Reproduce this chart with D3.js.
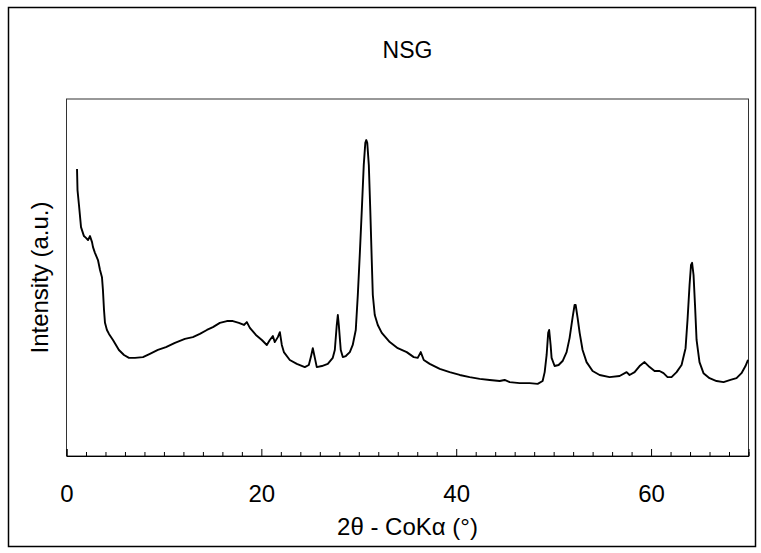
<!DOCTYPE html>
<html>
<head>
<meta charset="utf-8">
<script src="https://cdn.jsdelivr.net/npm/d3@7"></script>
<style>
  body { margin: 0; background: #fff; }
  svg { display: block; font-family: "Liberation Sans", Arial, sans-serif; }
</style>
</head>
<body>
<script>
// XRD pattern, NSG sample
var twoTheta = [1.08, 1.13, 1.28, 1.49, 1.79, 2.0, 2.21, 2.41, 2.62, 2.72, 2.92, 3.23, 3.44, 3.64, 3.74, 3.85, 3.95, 4.15, 4.36, 4.77,
  5.38, 5.9, 6.41, 7.03, 7.85, 8.56, 9.38, 10.21, 11.13, 12.15, 12.97, 13.69, 14.41, 15.03, 15.74, 16.46, 17.08, 17.69, 18.21, 18.51,
  18.82, 19.44, 20.05, 20.56, 20.87, 21.18, 21.38, 21.69, 21.9, 22.1, 22.31, 22.92, 23.64, 24.46, 24.87, 25.08, 25.28, 25.49, 25.69, 26.21,
  26.82, 27.33, 27.54, 27.74, 27.85, 27.95, 28.15, 28.36, 28.67, 29.08, 29.38, 29.69, 29.9, 30.1, 30.31, 30.51, 30.67, 30.77, 30.87, 31.03,
  31.18, 31.33, 31.44, 31.64, 31.95, 32.36, 33.18, 34.0, 34.92, 35.64, 36.05, 36.36, 36.67, 37.28, 38.31, 39.33, 40.36, 41.38, 42.41, 43.44,
  44.46, 44.97, 45.49, 46.51, 47.54, 48.36, 48.87, 49.08, 49.28, 49.44, 49.54, 49.69, 49.79, 50.1, 50.51, 50.92, 51.33, 51.64, 51.95, 52.15,
  52.26, 52.46, 52.67, 52.97, 53.38, 54.0, 54.72, 55.74, 56.77, 57.49, 57.79, 58.31, 58.82, 59.33, 59.85, 60.36, 60.87, 61.28, 61.69, 62.1,
  62.62, 63.13, 63.54, 63.74, 63.95, 64.1, 64.21, 64.36, 64.51, 64.67, 64.97, 65.38, 66.0, 66.72, 67.44, 68.15, 68.77, 69.28, 69.69, 69.95];
var intensity = [804, 745, 703, 641, 616, 611, 605, 616, 599, 585, 569, 549, 521, 501, 465, 409, 373, 353, 342, 325,
  297, 283, 275, 275, 277, 286, 297, 305, 317, 328, 333, 342, 353, 361, 373, 378, 378, 373, 367, 375,
  359, 339, 325, 311, 325, 336, 319, 333, 347, 311, 291, 269, 258, 249, 255, 277, 302, 275, 249, 252,
  258, 275, 297, 367, 395, 367, 297, 277, 280, 291, 311, 353, 451, 563, 689, 815, 877, 885, 877, 815,
  689, 549, 451, 395, 367, 345, 319, 302, 291, 277, 275, 291, 269, 258, 244, 235, 227, 221, 216, 213,
  210, 213, 207, 204, 204, 202, 210, 235, 283, 345, 353, 311, 275, 252, 255, 266, 291, 331, 389, 423,
  423, 387, 345, 297, 263, 238, 227, 221, 224, 235, 227, 235, 252, 263, 249, 238, 238, 232, 221, 221,
  235, 255, 302, 381, 479, 535, 541, 507, 423, 325, 263, 232, 218, 210, 207, 213, 218, 232, 252, 269];

var majorTicks = [0, 20, 40, 60];
var minorTicks = d3.range(0, 71, 2).filter(function(d) { return d % 20 !== 0; });

var title = "NSG";
var xTitle = "2θ - CoKα (°)";
var yTitle = "Intensity (a.u.)";

var width = 761, height = 553;
var margin = {top: 99, right: 12.5, bottom: 97, left: 66.5};

var x = d3.scaleLinear()
  .domain([0, 70])
  .range([margin.left, width - margin.right]);
var y = d3.scaleLinear()
  .domain([0, 1000])
  .range([height - margin.bottom, margin.top]);

var svg = d3.select("body").append("svg")
  .attr("width", width)
  .attr("height", height);

// outer frame
svg.append("rect")
  .attr("x", 8.5).attr("y", 7.5)
  .attr("width", 747).attr("height", 539)
  .attr("fill", "none")
  .attr("stroke", "#000")
  .attr("stroke-width", 1.5);

// plot box
svg.append("rect")
  .attr("x", x(0)).attr("y", margin.top)
  .attr("width", x(70) - x(0))
  .attr("height", height - margin.bottom - margin.top)
  .attr("fill", "none")
  .attr("stroke", "#333")
  .attr("stroke-width", 1);

var gx = svg.append("g")
  .attr("transform", "translate(0," + (height - margin.bottom) + ")");

gx.call(d3.axisBottom(x).tickValues(minorTicks).tickSize(-4).tickFormat(""))
  .call(function(g) { g.select(".domain").remove(); });

var gMajor = svg.append("g")
  .attr("transform", "translate(0," + (height - margin.bottom) + ")")
  .call(d3.axisBottom(x).tickValues(majorTicks).tickSize(-7).tickPadding(29).tickFormat(d3.format("d")));
gMajor.select(".domain").attr("stroke", "#000");
gMajor.selectAll("text")
  .attr("font-size", 24)
  .attr("font-family", "Liberation Sans, Arial, sans-serif")
  .attr("fill", "#000");

var line = d3.line()
  .x(function(d, i) { return x(twoTheta[i]); })
  .y(function(d) { return y(d); });

svg.append("path")
  .datum(intensity)
  .attr("fill", "none")
  .attr("stroke", "#000")
  .attr("stroke-width", 1.9)
  .attr("stroke-linejoin", "round")
  .attr("d", line);

svg.append("text")
  .attr("x", (x(0) + x(70)) / 2)
  .attr("y", 58)
  .attr("text-anchor", "middle")
  .attr("font-size", 23)
  .text(title);

svg.append("text")
  .attr("x", (x(0) + x(70)) / 2)
  .attr("y", 535)
  .attr("text-anchor", "middle")
  .attr("font-size", 24)
  .text(xTitle);

svg.append("text")
  .attr("transform", "translate(48," + (margin.top + height - margin.bottom) / 2 + ") rotate(-90)")
  .attr("text-anchor", "middle")
  .attr("font-size", 24)
  .text(yTitle);
</script>
</body>
</html>
